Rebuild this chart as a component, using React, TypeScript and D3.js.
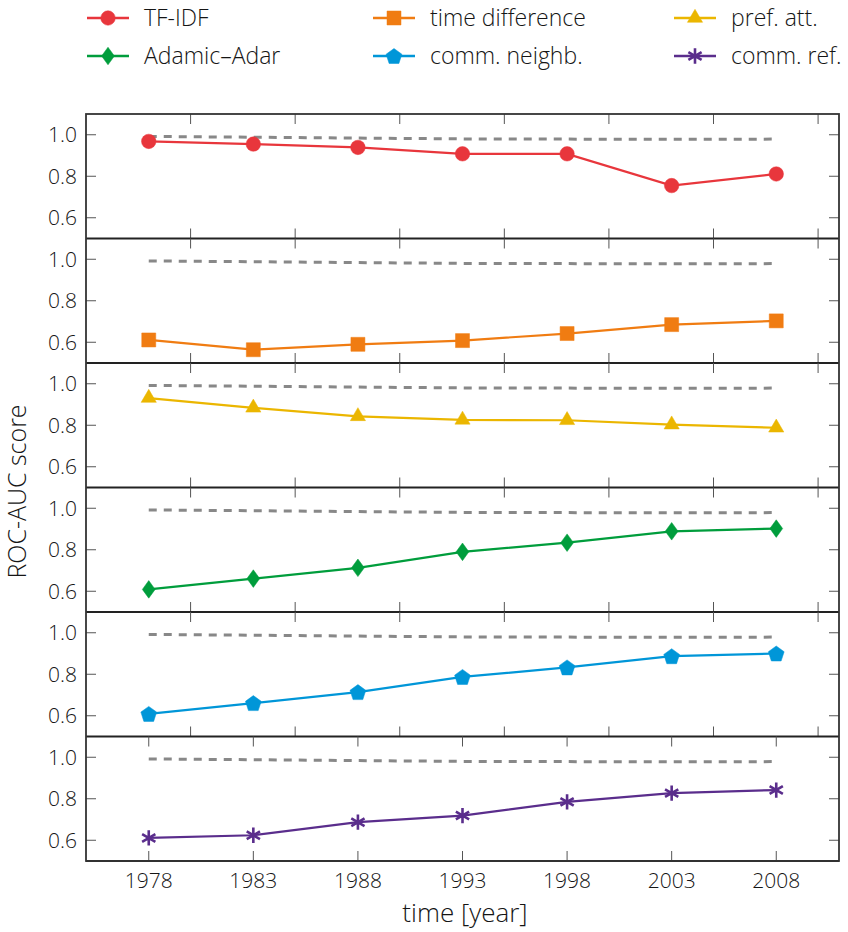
import * as d3 from 'd3';

const years = [1978, 1983, 1988, 1993, 1998, 2003, 2008];
const reference = [0.992, 0.988, 0.984, 0.98, 0.979, 0.978, 0.979];

const tfidf = [0.968, 0.955, 0.939, 0.908, 0.908, 0.755, 0.811];
const timeDiff = [0.611, 0.564, 0.59, 0.608, 0.642, 0.685, 0.703];
const prefAtt = [0.931, 0.884, 0.843, 0.826, 0.824, 0.803, 0.788];
const adamicAdar = [0.609, 0.661, 0.713, 0.79, 0.834, 0.889, 0.902];
const commNeighb = [0.609, 0.661, 0.714, 0.787, 0.833, 0.887, 0.9];
const commRef = [0.611, 0.624, 0.687, 0.719, 0.785, 0.827, 0.842];

const minorYears = [1980, 1985, 1990, 1995, 2000, 2005, 2010];
const yTicks = [0.6, 0.8, 1.0];

type Marker = 'circle' | 'square' | 'triangle' | 'diamond' | 'pentagon' | 'asterisk';

const series: { name: string; values: number[]; color: string; marker: Marker }[] = [
  { name: 'TF-IDF', values: tfidf, color: '#e8363c', marker: 'circle' },
  { name: 'time difference', values: timeDiff, color: '#f07c12', marker: 'square' },
  { name: 'pref. att.', values: prefAtt, color: '#ebb600', marker: 'triangle' },
  { name: 'Adamic–Adar', values: adamicAdar, color: '#009d3c', marker: 'diamond' },
  { name: 'comm. neighb.', values: commNeighb, color: '#0096d8', marker: 'pentagon' },
  { name: 'comm. ref.', values: commRef, color: '#5a2d8c', marker: 'asterisk' },
];

const width = 848;
const height = 932;
const frame = { left: 86, right: 839, top: 114, bottom: 861 };
const font = '"Open Sans", "Noto Sans", sans-serif';
const ink = '#151515';

function markerPath(m: Marker): string {
  switch (m) {
    case 'circle':
      return d3.symbol(d3.symbolCircle, 165)() ?? '';
    case 'square':
      return 'M-7,-7H7V7H-7Z';
    case 'triangle':
      return 'M0,-8.7L7.6,4.3H-7.6Z';
    case 'diamond':
      return 'M0,-8.8L6.4,0L0,8.8L-6.4,0Z';
    case 'pentagon': {
      const r = 8.3;
      const pts = d3.range(5).map((i) => {
        const a = -Math.PI / 2 + (i * 2 * Math.PI) / 5;
        return [r * Math.cos(a), r * Math.sin(a) + 0.8] as [number, number];
      });
      return 'M' + pts.map((p) => p.join(',')).join('L') + 'Z';
    }
    case 'asterisk':
      return d3.symbol(d3.symbolAsterisk, 165)() ?? '';
  }
}

function MarkerShape({ m, color, x, y }: { m: Marker; color: string; x: number; y: number }) {
  const stroked = m === 'asterisk';
  return (
    <path
      d={markerPath(m)}
      transform={`translate(${x},${y})`}
      fill={stroked ? 'none' : color}
      stroke={color}
      strokeWidth={stroked ? 2.6 : 0.5}
    />
  );
}

export default function App() {
  const x = d3.scaleLinear().domain([1975, 2011]).range([frame.left, frame.right]);
  const panelTop = d3.scaleLinear().domain([0, series.length]).range([frame.top, frame.bottom]);
  const tickLen = 10;

  // legend marker centres
  const legendCols = [108, 394, 695];
  const legendRows = [18, 56];

  return (
    <svg
      width={width}
      height={height}
      viewBox={`0 0 ${width} ${height}`}
      style={{ position: 'absolute', left: 0, top: 0, background: '#fff' }}
      fontFamily={font}
    >
      {series.map((s, k) => {
        const lx = legendCols[k % 3];
        const ly = legendRows[Math.floor(k / 3)];
        return (
          <g key={s.name}>
            <line x1={lx - 21} x2={lx + 21} y1={ly} y2={ly} stroke={s.color} strokeWidth={2.4} />
            <MarkerShape m={s.marker} color={s.color} x={lx} y={ly} />
            <text x={lx + 36} y={ly + 8} fontSize={23} fontWeight={300} fill={ink}>
              {s.name}
            </text>
          </g>
        );
      })}

      {series.map((s, i) => {
        const top = panelTop(i);
        const bottom = panelTop(i + 1);
        const y = d3.scaleLinear().domain([0.5, 1.1]).range([bottom, top]);
        const line = d3
          .line<number>()
          .x((_, j) => x(years[j]))
          .y((d) => y(d));
        const isLast = i === series.length - 1;
        const xt = isLast ? years : minorYears;
        return (
          <g key={s.name}>
            {xt.map((t) => (
              <g key={t} stroke="#555" strokeWidth={1}>
                <line x1={x(t)} x2={x(t)} y1={top} y2={top + tickLen} />
                <line x1={x(t)} x2={x(t)} y1={bottom} y2={bottom - tickLen} />
              </g>
            ))}
            {yTicks.map((t) => (
              <g key={t}>
                <line x1={frame.left} x2={frame.left + tickLen} y1={y(t)} y2={y(t)} stroke="#555" />
                <line x1={frame.right} x2={frame.right - tickLen} y1={y(t)} y2={y(t)} stroke="#555" />
                <text
                  x={77}
                  y={y(t)}
                  dy="0.36em"
                  textAnchor="end"
                  fontSize={21}
                  fontWeight={300}
                  fill={ink}
                >
                  {t.toFixed(1)}
                </text>
              </g>
            ))}
            <path
              d={line(reference) ?? ''}
              fill="none"
              stroke="#888"
              strokeWidth={3}
              strokeDasharray="8,7"
            />
            <path d={line(s.values) ?? ''} fill="none" stroke={s.color} strokeWidth={2.2} />
            {s.values.map((v, j) => (
              <MarkerShape key={j} m={s.marker} color={s.color} x={x(years[j])} y={y(v)} />
            ))}
            <line x1={frame.left} x2={frame.right} y1={bottom} y2={bottom} stroke="#222" strokeWidth={1.8} />
          </g>
        );
      })}

      <rect
        x={frame.left}
        y={frame.top}
        width={frame.right - frame.left}
        height={frame.bottom - frame.top}
        fill="none"
        stroke="#333"
        strokeWidth={1.8}
      />

      {years.map((t) => (
        <text key={t} x={x(t)} y={888} textAnchor="middle" fontSize={21} fontWeight={300} fill={ink}>
          {t}
        </text>
      ))}
      <text x={465} y={922} textAnchor="middle" fontSize={26} fontWeight={300} fill={ink}>
        time [year]
      </text>
      <text
        transform={`translate(26,${(frame.top + frame.bottom) / 2 + 4}) rotate(-90)`}
        textAnchor="middle"
        fontSize={25}
        fontWeight={300}
        fill={ink}
      >
        ROC-AUC score
      </text>
    </svg>
  );
}
